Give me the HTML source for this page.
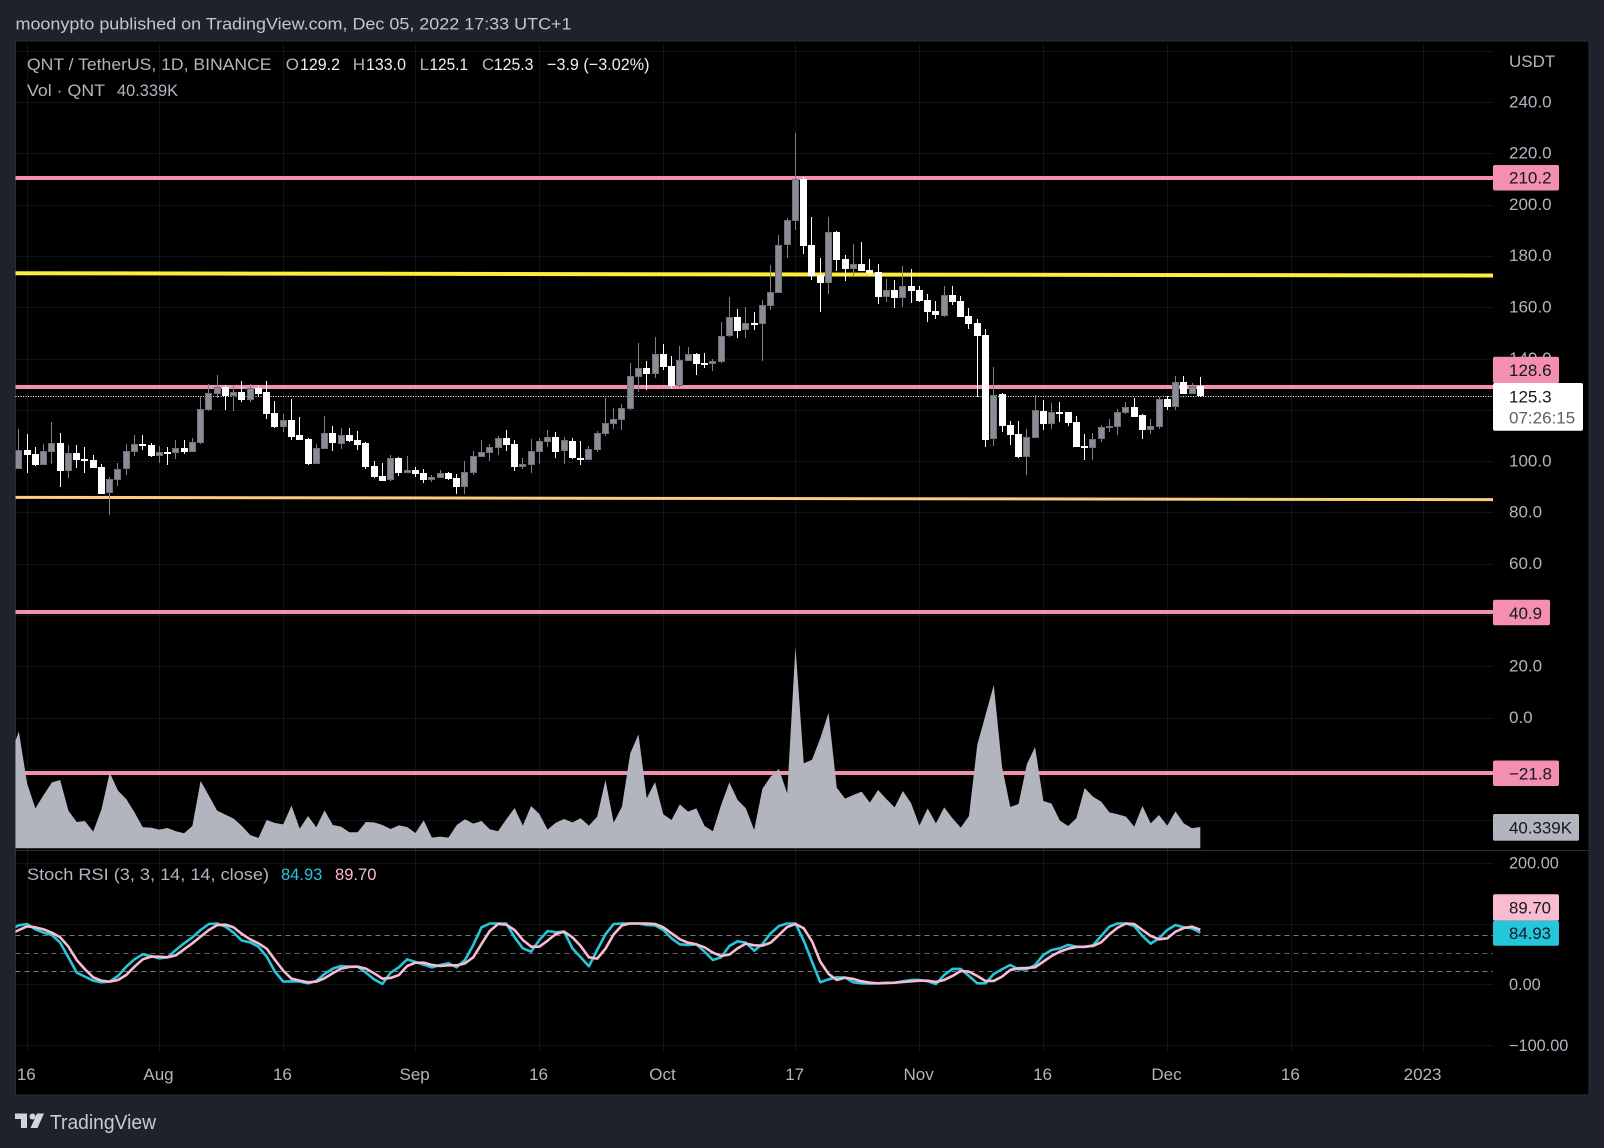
<!DOCTYPE html>
<html lang="en">
<head>
<meta charset="utf-8">
<title>QNT / TetherUS chart</title>
<style>
html,body{margin:0;padding:0;background:#1e222d;}
svg{display:block;font-family:"Liberation Sans",Arial,sans-serif;}
text{font-size:17px;fill:#b2b5be;}
</style>
</head>
<body>
<svg id="chart" xmlns="http://www.w3.org/2000/svg" width="1604" height="1148" viewBox="0 0 1604 1148">
<defs>
<clipPath id="plot-clip"><rect x="15.5" y="41" width="1477.5" height="1011"></rect></clipPath>
<clipPath id="main-clip"><rect x="15.5" y="41" width="1477.5" height="809"></rect></clipPath>
</defs>
<rect x="0" y="0" width="1604" height="1148" fill="#1e222d"></rect>
<text x="15.5" y="29.5" textLength="556" lengthAdjust="spacingAndGlyphs" fill="#b2b5be" style="fill:#c3c6ce">moonypto published on TradingView.com, Dec 05, 2022 17:33 UTC+1</text>
<rect x="15.5" y="41" width="1573.5" height="1054" fill="#000" stroke="#2a2e39" stroke-width="1"></rect>
<g id="grid"></g>
<g id="drawings" clip-path="url(#main-clip)"></g>
<g id="candles" clip-path="url(#main-clip)"></g>
<g id="volume" clip-path="url(#main-clip)"></g>
<line x1="15.5" y1="850.5" x2="1589" y2="850.5" stroke="#2a2e39" stroke-width="1"></line>
<g id="stoch" clip-path="url(#plot-clip)"></g>
<g id="price-axis">
<text x="1509" y="67">USDT</text>
</g>
<g id="time-axis"></g>

<g>
<text x="27" y="70" textLength="244.5" lengthAdjust="spacingAndGlyphs">QNT / TetherUS, 1D, BINANCE</text>
<text x="285.7" y="70">O</text>
<text x="300" y="70" textLength="40" lengthAdjust="spacingAndGlyphs" style="fill:#eef0f5">129.2</text>
<text x="352.7" y="70">H</text>
<text x="366" y="70" textLength="40" lengthAdjust="spacingAndGlyphs" style="fill:#eef0f5">133.0</text>
<text x="419.6" y="70">L</text>
<text x="429.5" y="70" textLength="38.5" lengthAdjust="spacingAndGlyphs" style="fill:#eef0f5">125.1</text>
<text x="482" y="70">C</text>
<text x="493.8" y="70" textLength="39.7" lengthAdjust="spacingAndGlyphs" style="fill:#eef0f5">125.3</text>
<text x="547" y="70" textLength="102.5" lengthAdjust="spacingAndGlyphs" style="fill:#eef0f5">−3.9 (−3.02%)</text>
<text x="27" y="96" textLength="78" lengthAdjust="spacingAndGlyphs">Vol · QNT</text>
<text x="117" y="96" textLength="61" lengthAdjust="spacingAndGlyphs">40.339K</text>
</g>
<g>
<text x="27" y="880" textLength="242" lengthAdjust="spacingAndGlyphs">Stoch RSI (3, 3, 14, 14, close)</text>
<text x="281" y="880" textLength="41.3" lengthAdjust="spacingAndGlyphs" style="fill:#26c6da">84.93</text>
<text x="335" y="880" textLength="41.4" lengthAdjust="spacingAndGlyphs" style="fill:#f8bbd0">89.70</text>
</g>

<g id="pills">
<rect x="1493" y="165" width="66" height="25.5" rx="2" fill="#f48fb1"></rect>
<text x="1509" y="183.6" style="fill:#131722">210.2</text>
<rect x="1493" y="356.7" width="66" height="26.6" rx="2" fill="#f48fb1"></rect>
<text x="1509" y="376" style="fill:#131722">128.6</text>
<rect x="1493" y="383" width="90" height="47.7" rx="2" fill="#ffffff"></rect>
<text x="1509" y="402.7" style="fill:#131722">125.3</text>
<text x="1509" y="423.7" style="fill:#5d606b">07:26:15</text>
<rect x="1493" y="599.8" width="57" height="25.5" rx="2" fill="#f48fb1"></rect>
<text x="1509" y="618.8" style="fill:#131722">40.9</text>
<rect x="1493" y="760.5" width="66" height="25.5" rx="2" fill="#f48fb1"></rect>
<text x="1509" y="779.5" style="fill:#131722">−21.8</text>
<rect x="1493" y="814" width="86" height="26.7" rx="2" fill="#b2b5be"></rect>
<text x="1509" y="833.6" textLength="63" lengthAdjust="spacingAndGlyphs" style="fill:#131722">40.339K</text>
<rect x="1493" y="894.3" width="66" height="26.4" rx="2" fill="#f8bbd0"></rect>
<text x="1509" y="913.5" textLength="42" lengthAdjust="spacingAndGlyphs" style="fill:#131722">89.70</text>
<rect x="1493" y="920.7" width="66" height="25" rx="2" fill="#26c6da"></rect>
<text x="1509" y="939" textLength="42" lengthAdjust="spacingAndGlyphs" style="fill:#131722">84.93</text>
</g>

<g>
<path d="M15 1113.5H27V1128H21V1119H15Z" fill="#d1d4dc"></path>
<circle cx="32.5" cy="1116.5" r="3" fill="#d1d4dc"></circle>
<path d="M37 1113.5H44L37.5 1128H30.5Z" fill="#d1d4dc"></path>
<text x="50" y="1129" textLength="106" lengthAdjust="spacingAndGlyphs" style="font-size:20px;fill:#c8cbd3">TradingView</text>
</g>
</svg>

<script>
// ---- chart data ----
const firstBarDay = -17; // day offset of first candle relative to Aug 1
const opens = [97.1,104.4,102.8,98.6,103.7,107.1,96.3,103.2,100.9,100.5,97.7,87.7,92.8,97.1,103.7,106.7,106.3,102.1,103.6,103.3,105.1,103.7,107.2,120.1,126.3,128.9,125.4,127.0,123.9,128.5,127.0,118.8,113.3,116.1,110.2,108.7,98.9,104.8,111.0,106.7,110.2,108.3,107.1,98.1,94.2,92.7,101.2,95.4,96.6,95.4,92.7,93.4,95.4,93.4,89.9,95.4,101.6,103.2,105.1,109.0,106.7,97.7,98.5,103.6,107.5,109.4,104.0,107.9,101.2,100.5,104.4,110.6,114.5,116.1,120.3,132.8,136.3,134.0,141.8,137.1,129.3,139.1,141.8,138.3,137.9,138.7,148.8,156.2,151.2,153.9,153.5,160.5,165.6,184.3,193.7,210.0,184.3,172.6,169.5,189.4,178.8,174.9,176.9,174.5,173.8,164.0,166.8,163.6,168.3,166.8,162.9,158.6,156.6,164.8,162.5,156.6,153.9,149.2,108.7,126.2,114.1,110.6,101.6,109.0,119.6,114.5,119.2,119.2,115.3,105.9,105.1,108.7,112.9,113.3,118.8,121.1,118.0,112.2,113.3,124.2,121.1,130.9,126.2,129.2];
const highs = [112.5,110.6,105.4,106.7,115.3,111.0,106.3,106.3,105.5,102.4,98.9,94.0,99.3,106.7,110.2,110.2,107.1,105.9,105.5,108.3,108.3,109.0,125.0,130.1,133.6,129.7,129.7,131.3,130.1,129.3,131.3,123.5,118.4,124.3,117.2,109.0,106.7,117.6,113.7,112.9,112.9,111.8,107.5,100.1,99.3,102.4,101.6,102.0,97.7,96.9,94.6,96.6,95.8,95.0,100.1,104.0,108.3,106.7,109.8,112.2,108.3,101.2,108.7,109.0,112.2,111.4,109.4,109.0,107.9,105.9,111.8,124.6,120.7,122.3,138.3,146.1,139.1,148.5,145.7,141.0,144.9,144.5,142.2,142.2,139.9,154.3,164.0,159.3,160.1,158.2,162.9,176.5,188.2,194.8,228.0,210.8,195.2,179.2,195.2,189.8,180.4,184.7,185.5,178.8,176.9,171.0,170.6,176.1,174.9,168.3,165.2,162.5,168.3,168.3,164.4,159.7,155.5,151.6,136.7,126.6,115.7,115.7,112.6,125.8,123.9,122.7,123.1,119.2,117.6,110.6,111.0,114.1,116.5,120.3,123.1,124.6,118.4,116.5,125.0,125.4,133.2,133.2,130.5,133.0];
const lows = [97.1,95.5,98.2,98.5,99.0,90.1,93.6,97.5,95.5,97.5,87.3,79.1,90.5,94.7,102.1,104.5,101.8,99.4,98.6,101.0,102.9,103.7,106.8,119.7,124.8,120.0,119.6,123.2,123.2,125.0,116.5,112.9,111.4,108.3,108.3,98.5,98.9,104.8,104.0,104.8,107.5,104.4,97.0,93.5,92.3,92.4,94.2,95.4,93.8,91.5,91.9,93.4,92.7,87.2,87.2,94.6,101.6,100.1,102.4,104.0,96.2,97.0,95.4,98.9,105.5,101.2,98.9,100.9,98.5,100.5,103.6,109.8,112.6,112.2,120.0,127.0,127.8,132.4,135.6,128.5,128.5,139.1,133.6,136.3,135.2,138.3,148.6,148.0,148.0,151.2,139.1,158.9,165.6,179.2,190.2,180.8,170.6,158.2,165.2,174.2,170.3,171.8,174.2,172.6,161.3,162.0,159.7,160.1,161.7,162.0,154.3,155.4,156.2,160.9,156.2,151.6,125.2,105.5,105.9,111.4,106.3,101.2,94.6,109.0,112.2,112.5,115.3,113.7,105.5,100.5,100.5,107.5,111.4,110.2,118.4,117.2,108.7,110.6,112.5,120.0,120.0,126.2,126.2,125.1];
const closes = [104.4,102.4,98.6,104.0,107.1,96.3,103.2,100.6,100.2,97.5,87.3,93.1,97.0,104.0,106.7,105.9,102.0,103.6,102.8,105.1,103.7,107.5,120.4,126.6,128.9,125.4,127.0,123.9,128.5,126.2,118.4,113.3,116.1,109.4,108.3,98.9,105.1,111.0,107.1,110.2,107.9,106.3,97.7,93.8,92.3,101.2,95.4,96.6,95.0,92.7,93.8,95.4,93.0,89.9,95.8,102.0,103.6,105.5,109.0,106.3,97.7,98.9,104.0,107.9,109.4,103.6,108.3,101.2,100.5,104.8,111.0,114.9,116.5,120.7,133.2,136.3,134.0,141.8,136.7,129.3,139.5,141.8,137.9,137.9,139.1,148.8,156.2,150.8,153.9,153.1,160.9,166.0,184.3,194.0,210.0,183.9,172.2,169.5,189.4,178.5,174.9,176.9,174.2,173.4,164.0,166.8,163.6,168.3,166.4,162.4,158.2,157.0,164.8,162.1,156.2,153.5,148.8,108.3,125.8,113.7,110.2,101.6,109.4,120.0,114.5,119.2,118.8,114.9,105.5,105.1,108.7,113.3,113.7,119.2,121.1,117.2,112.2,113.7,124.2,121.1,130.9,126.2,129.3,125.3];

// volume and stoch start one bar earlier than the first candle (off-pane bar)
const lineStartDay = -18;
const volumes = [179.8,220.9,123.0,75.7,101.0,124.9,129.4,71.3,49.8,51.7,31.6,73.8,143.2,109.2,93.4,68.1,39.8,39.1,35.3,38.5,32.2,28.4,42.3,127.5,99.7,71.3,63.7,56.2,42.3,25.2,19.6,53.6,48.0,45.4,80.8,37.2,61.2,39.8,71.9,44.2,41.0,30.3,30.3,49.8,49.2,44.2,36.6,43.5,40.4,29.0,53.0,20.2,22.1,20.2,44.2,54.9,46.7,51.7,36.0,32.2,54.9,76.4,42.9,80.1,65.0,35.3,48.6,55.5,49.2,56.8,42.9,59.9,129.4,48.6,78.9,179.8,215.8,94.7,125.6,64.4,53.6,83.3,69.4,75.7,42.3,32.2,82.0,124.9,91.5,75.7,34.7,112.9,135.7,150.2,104.1,381.8,160.9,167.8,208.2,256.8,114.8,94.0,101.0,107.3,86.4,110.4,93.4,77.6,108.5,85.2,42.9,75.7,47.3,77.6,56.8,39.1,61.2,195.6,252.4,309.2,154.6,78.2,83.9,159.0,191.8,89.6,84.6,52.4,42.3,56.8,114.2,97.8,88.3,68.1,64.4,59.9,41.0,80.1,47.3,63.1,42.9,70.0,47.3,37.9,40.339];
const stochK = [90.4,97.0,99.2,90.4,84.9,81.1,68.5,44.4,19.2,12.6,6.0,3.3,4.4,13.7,29.0,41.1,49.3,46.6,42.7,44.4,56.4,67.4,77.3,89.3,99.2,100,94.8,84.9,71.8,69.0,61.9,45.5,20.8,4.4,4.9,4.4,1.6,5.5,17.0,25.8,30.1,29.0,29.0,19.2,8.2,0.5,19.2,27.9,41.1,36.7,32.3,27.9,31.8,34.5,27.9,40.0,64.7,93.7,100,100,100,77.3,59.2,53.7,72.9,87.7,85.5,86.6,59.2,44.4,29.6,56.4,82.2,99.2,100,100,100,97.5,97.0,89.3,75.6,65.8,64.7,65.8,53.7,40.0,44.4,63.0,70.7,68.5,55.3,66.3,83.8,95.9,100,100,71.8,37.3,3.3,8.2,11.5,11.0,3.3,1.6,1.1,1.6,2.2,2.7,4.9,7.1,7.1,4.9,0.5,15.3,25.2,25.2,13.7,1.6,1.6,17.0,24.7,31.8,24.7,24.7,31.8,48.2,56.4,59.2,64.7,61.9,61.4,64.1,79.5,94.8,100,100,95.9,79.5,66.9,75.6,89.3,97.5,93.7,92.1,84.93];
const stochD = [82.7,89.3,95.4,93.7,90.4,84.9,77.3,61.9,40.0,24.7,11.5,6.0,4.4,7.1,15.3,29.0,41.1,45.5,45.5,44.4,47.7,57.5,67.4,78.4,89.3,97.5,98.1,93.7,82.7,74.0,67.4,58.6,40.0,22.5,9.3,6.0,3.3,4.4,9.9,18.1,25.8,28.5,29.0,25.8,18.1,9.3,10.4,15.3,30.1,35.6,35.6,31.8,30.1,31.2,31.2,34.5,44.4,66.3,87.7,99.2,98.1,89.3,72.9,61.9,61.9,71.8,82.7,86.6,77.3,63.0,44.4,42.2,58.6,82.2,97.0,100,100,100,99.2,93.7,83.8,74.0,68.5,65.8,60.8,52.1,46.6,48.8,59.2,66.9,64.1,63.6,68.5,81.1,94.3,99.2,92.1,70.7,37.3,17.0,7.1,11.0,8.8,4.9,2.7,1.6,2.2,2.7,3.8,4.9,6.0,6.0,3.8,7.1,13.7,21.9,20.8,13.7,5.5,5.5,12.6,23.6,26.3,26.9,27.9,37.3,46.6,53.7,58.6,61.4,61.9,63.0,69.0,82.2,93.2,100,99.2,89.3,79.5,74.0,75.6,86.6,92.6,94.8,89.70];

const lastPrice = 125.3;
const pinkLevels = [210.2, 128.6, 40.9, -21.8];
const yellowLevelStart = 173.3;
const yellowLevelEnd = 172.4;
const orangeLevelStart = 85.9;
const orangeLevelEnd = 85.0;

const priceTicks = [240,220,200,180,160,140,120,100,80,60,40,20,0,-20,-40];
const priceGrid = [260,240,220,200,180,160,140,120,100,80,60,40,20,0,-20,-40];
const stochTicks = [200,0,-100];
const stochGrid = [200,100,0,-100];
const stochBands = [80,50,20];
const timeDays = [-16,0,15,31,46,61,77,92,107,122,137,153];
const timeLabels = ['16','Aug','16','Sep','16','Oct','17','Nov','16','Dec','16','2023'];

// ---- axis functions ----
function xScale(day){ return 159.3 + 8.262 * day; }
function priceY(p){ return 461.2 - (p - 100) * 2.5645; }
function volY(v){ return 848.3 - v * 0.528; }
function stochY(v){ return 984.3 - v * 0.608; }

const NS = 'http://www.w3.org/2000/svg';
function make(tag, attrs, parent){
  const node = document.createElementNS(NS, tag);
  for (const k in attrs) node.setAttribute(k, attrs[k]);
  parent.appendChild(node);
  return node;
}
function fmtTick(v, d){
  const s = Math.abs(v).toFixed(d);
  return (v < 0 ? '\u2212' : '') + s;
}

const PLOT_L = 15.5, PLOT_R = 1493;
const gridG = document.getElementById('grid');
const drawG = document.getElementById('drawings');
const candleG = document.getElementById('candles');
const volG = document.getElementById('volume');
const stochG = document.getElementById('stoch');
const priceG = document.getElementById('price-axis');
const timeG = document.getElementById('time-axis');
const GRID = '#111215';

// grid
priceGrid.forEach(function(p){
  const y = Math.round(priceY(p)) + 0.5;
  const el = make('line', {x1:PLOT_L, x2:PLOT_R, y1:y, y2:y, stroke:GRID, 'stroke-width':1}, gridG);
  
  
});
stochGrid.forEach(function(v){
  const y = Math.round(stochY(v)) + 0.5;
  const el = make('line', {x1:PLOT_L, x2:PLOT_R, y1:y, y2:y, stroke:GRID, 'stroke-width':1}, gridG);
  
  
});
timeDays.forEach(function(d, i){
  const x = Math.round(xScale(d)) + 0.5;
  const top = make('line', {x1:x, x2:x, y1:41, y2:850, stroke:GRID, 'stroke-width':1}, gridG);
  
  
  const bot = make('line', {x1:x, x2:x, y1:851, y2:1052, stroke:GRID, 'stroke-width':1}, gridG);
  
  
  const t = make('text', {x:xScale(d) - 0.8, y:1080, 'text-anchor':'middle'}, timeG);
  
  
  t.textContent = timeLabels[i];
});

// drawings
pinkLevels.forEach(function(p){
  const y = Math.floor(priceY(p));
  const el = make('line', {x1:PLOT_L, x2:PLOT_R, y1:y, y2:y, stroke:'#f48fb1', 'stroke-width':4}, drawG);
  
  
});
const yellow = make('line', {x1:PLOT_L, x2:PLOT_R, y1:priceY(yellowLevelStart), y2:priceY(yellowLevelEnd), stroke:'#ffeb3b', 'stroke-width':4}, drawG);


const orange = make('line', {x1:PLOT_L, x2:PLOT_R, y1:priceY(orangeLevelStart), y2:priceY(orangeLevelEnd), stroke:'#ffcc80', 'stroke-width':3}, drawG);


const lastY = Math.round(priceY(lastPrice)) + 0.5;
const dotted = make('line', {x1:PLOT_L, x2:PLOT_R, y1:lastY, y2:lastY, stroke:'#ffffff', 'stroke-width':1, 'stroke-dasharray':'1 1.5'}, drawG);



// candles
opens.forEach(function(o, i){
  const c = closes[i], h = highs[i], l = lows[i];
  const cx = xScale(firstBarDay + i);
  const up = c >= o;
  const bodyX = Math.round(cx - 3.5);
  const top = Math.round(priceY(Math.max(o, c)));
  const bot = Math.max(top + 2, Math.round(priceY(Math.min(o, c))));
  const hy = Math.round(priceY(h));
  const ly = Math.round(priceY(l));
  const wick = make('rect', {x:bodyX + 3, y:hy, width:1, height:Math.max(1, ly - hy), fill: up ? '#7f828b' : '#ffffff'}, candleG);
  
  
  const body = make('rect', {x:bodyX, y:top, width:7, height:bot - top, fill: up ? '#70727a' : '#ffffff'}, candleG);
  
  
  if (up && bot - top > 2) {
    const inner = make('rect', {x:bodyX + 1, y:top + 1, width:5, height:bot - top - 2, fill:'#8a8d96'}, candleG);
    
    
  }
});

// volume area
(function(){
  const pts = volumes.map(function(v, i){
    return xScale(lineStartDay + i).toFixed(2) + ',' + volY(v).toFixed(2);
  });
  const lastX = xScale(lineStartDay + volumes.length - 1).toFixed(2);
  const firstX = xScale(lineStartDay).toFixed(2);
  const d = 'M' + firstX + ',' + volY(0) + ' L' + pts.join(' L') + ' L' + lastX + ',' + volY(0) + ' Z';
  const area = make('path', {d:d, fill:'#b2b5be'}, volG);
  
  
})();

// stoch bands & lines
stochBands.forEach(function(v){
  const y = Math.round(stochY(v)) - 0.5;
  const el = make('line', {x1:PLOT_L, x2:PLOT_R, y1:y, y2:y, stroke: v === 50 ? '#5f626b' : '#787b86', 'stroke-width':1, 'stroke-dasharray':'5 4'}, stochG);
  
  
});
function linePath(arr){
  return arr.map(function(v, i){
    return (i ? 'L' : 'M') + xScale(lineStartDay + i).toFixed(2) + ',' + stochY(v).toFixed(2);
  }).join(' ');
}
const kLine = make('path', {d:linePath(stochK), fill:'none', stroke:'#26c6da', 'stroke-width':2.6, 'stroke-linejoin':'round'}, stochG);


const dLine = make('path', {d:linePath(stochD), fill:'none', stroke:'#f8bbd0', 'stroke-width':2.6, 'stroke-linejoin':'round'}, stochG);



// axis labels
priceTicks.forEach(function(p){
  const t = make('text', {x:1509, y:priceY(p) + 5.2}, priceG);
  
  
  t.textContent = fmtTick(p, 1);
});
stochTicks.forEach(function(v){
  const t = make('text', {x:1509, y:stochY(v) + 5.8, style:'font-size:16.3px'}, priceG);
  
  
  t.textContent = fmtTick(v, 2);
});
</script>
</body>
</html>
